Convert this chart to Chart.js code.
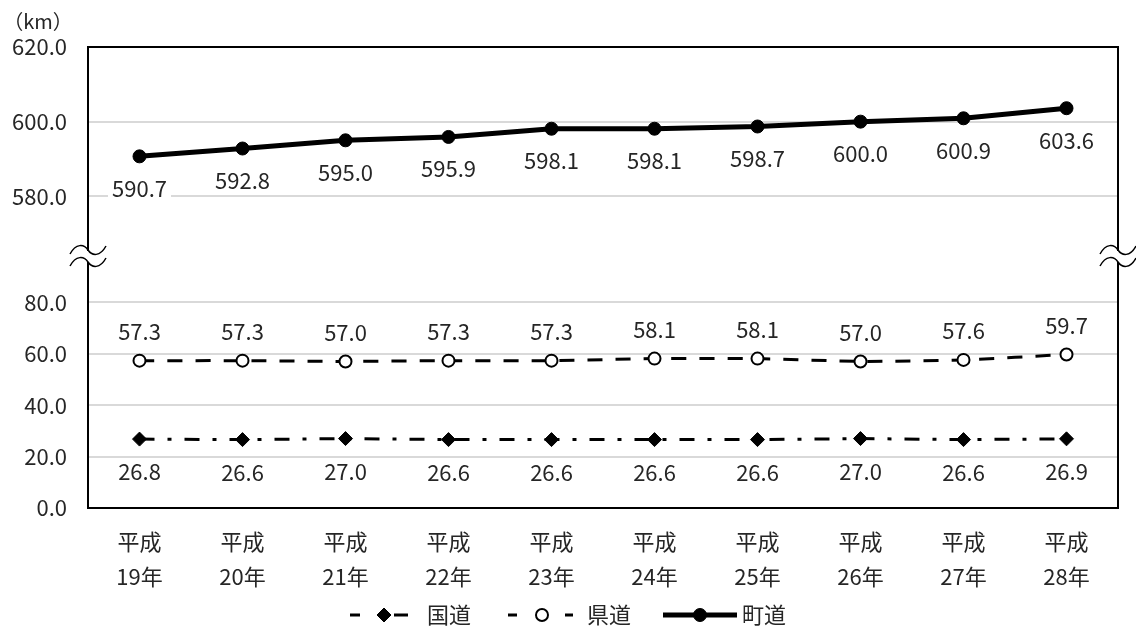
<!DOCTYPE html>
<html>
<head>
<meta charset="utf-8">
<script src="https://cdn.jsdelivr.net/npm/chart.js@4/dist/chart.umd.min.js"></script>
<style>
  body { margin: 0; background: #fff; }
  #wrap { width: 1136px; height: 632px; position: relative; }
</style>
</head>
<body>
<div id="wrap"><canvas id="roadChart"></canvas></div>
<script>
// 道路延長の推移 (km)
const years = [
  ["平成", "19年"], ["平成", "20年"], ["平成", "21年"], ["平成", "22年"], ["平成", "23年"],
  ["平成", "24年"], ["平成", "25年"], ["平成", "26年"], ["平成", "27年"], ["平成", "28年"],
];
const kokudo = [26.8, 26.6, 27.0, 26.6, 26.6, 26.6, 26.6, 27.0, 26.6, 26.9];
const kendo = [57.3, 57.3, 57.0, 57.3, 57.3, 58.1, 58.1, 57.0, 57.6, 59.7];
const chodo = [590.7, 592.8, 595.0, 595.9, 598.1, 598.1, 598.7, 600.0, 600.9, 603.6];
const seriesNames = ["国道", "県道", "町道"];
const lowerTicks = [0, 20, 40, 60, 80];
const upperTicks = [580, 600, 620];
const unitLabel = "（km）";

const FONT = '"Noto Sans CJK JP", "Noto Sans", sans-serif';
const TEXT = "#262626";
const FS = 22;

// data labels with white box behind
const valueLabels = {
  id: "valueLabels",
  afterDatasetsDraw(chart) {
    const ctx = chart.ctx;
    ctx.save();
    ctx.font = FS + "px " + FONT;
    ctx.textAlign = "center";
    ctx.textBaseline = "middle";
    chart.data.datasets.forEach((ds, i) => {
      const meta = chart.getDatasetMeta(i);
      meta.data.forEach((pt, j) => {
        const txt = ds.data[j].toFixed(1);
        const w = ctx.measureText(txt).width;
        const y = pt.y + ds.labelDy;
        ctx.fillStyle = "#fff";
        ctx.fillRect(pt.x - w / 2 - 4, y - 12, w + 8, 24);
        ctx.fillStyle = TEXT;
        ctx.fillText(txt, pt.x, y + 1);
      });
    });
    ctx.restore();
  },
};

// plot frame, axis break marks, unit, legend
const decor = {
  id: "decor",
  beforeDatasetsDraw(chart) {
    const { ctx, chartArea: a } = chart;
    ctx.save();
    ctx.strokeStyle = "#000";
    ctx.lineWidth = 2;
    ctx.strokeRect(a.left, a.top, a.right - a.left, a.bottom - a.top);
    ctx.restore();
  },
  afterDraw(chart) {
    const { ctx, chartArea: a } = chart;
    const yb = chart.scales.y.top;
    ctx.save();
    [a.left, a.right].forEach((x) => {
      const wave = (y0) => {
        ctx.moveTo(x - 18, y0 + 4);
        ctx.bezierCurveTo(x - 12, y0 - 7, x - 4, y0 - 6, x, y0);
        ctx.bezierCurveTo(x + 4, y0 + 6, x + 12, y0 + 7, x + 18, y0 - 4);
      };
      ctx.fillStyle = "#fff";
      ctx.fillRect(x - 3, yb - 5, 6, 11);
      ctx.strokeStyle = "#000";
      ctx.lineWidth = 1.5;
      ctx.beginPath();
      wave(yb - 6);
      ctx.stroke();
      ctx.beginPath();
      wave(yb + 6);
      ctx.stroke();
    });

    ctx.fillStyle = TEXT;
    ctx.font = "20px " + FONT;
    ctx.textAlign = "center";
    ctx.textBaseline = "middle";
    ctx.fillText(unitLabel, 38, 21);

    // legend
    const items = [
      { segs: [[350, 360], [394, 408]], mx: 384, tx: 427 },
      { segs: [[508, 517], [565, 573]], mx: 542, tx: 587 },
      { segs: [[663, 737]], mx: 700, tx: 742 },
    ];
    const ly = 615;
    items.forEach((it, i) => {
      const ds = chart.data.datasets[i];
      ctx.strokeStyle = ds.borderColor;
      ctx.lineWidth = ds.borderWidth;
      it.segs.forEach((s) => {
        ctx.beginPath();
        ctx.moveTo(s[0], ly);
        ctx.lineTo(s[1], ly);
        ctx.stroke();
      });
      ctx.fillStyle = ds.pointBackgroundColor;
      ctx.strokeStyle = ds.pointBorderColor;
      ctx.lineWidth = ds.pointBorderWidth;
      ctx.beginPath();
      if (ds.pointStyle === "circle") {
        ctx.arc(it.mx, ly, ds.pointRadius, 0, Math.PI * 2);
      } else {
        const r = ds.pointRadius;
        ctx.moveTo(it.mx, ly - r); ctx.lineTo(it.mx + r, ly);
        ctx.lineTo(it.mx, ly + r); ctx.lineTo(it.mx - r, ly);
        ctx.closePath();
      }
      ctx.fill();
      ctx.stroke();
      ctx.fillStyle = TEXT;
      ctx.font = FS + "px " + FONT;
      ctx.textAlign = "left";
      ctx.fillText(seriesNames[i], it.tx, ly);
    });
    ctx.restore();
  },
};

const yTickStyle = {
  font: { size: FS, family: FONT },
  color: TEXT,
  padding: 21,
  callback: (v) => Number(v).toFixed(1),
};

new Chart(document.getElementById("roadChart"), {
  type: "line",
  data: {
    labels: years,
    datasets: [
      {
        label: seriesNames[0],
        data: kokudo,
        yAxisID: "y",
        borderColor: "#000",
        borderWidth: 3,
        borderDash: [15, 13, 4, 13],
        pointStyle: "rectRot",
        pointRadius: 7,
        pointBorderWidth: 1,
        pointBackgroundColor: "#000",
        pointBorderColor: "#000",
        tension: 0,
        labelDy: 32,
      },
      {
        label: seriesNames[1],
        data: kendo,
        yAxisID: "y",
        borderColor: "#000",
        borderWidth: 3,
        borderDash: [15, 13],
        pointStyle: "circle",
        pointRadius: 6,
        pointBorderWidth: 2,
        pointBackgroundColor: "#fff",
        pointBorderColor: "#000",
        tension: 0.2,
        labelDy: -30,
      },
      {
        label: seriesNames[2],
        data: chodo,
        yAxisID: "y2",
        borderColor: "#000",
        borderWidth: 5,
        pointStyle: "circle",
        pointRadius: 6.5,
        pointBorderWidth: 1,
        pointBackgroundColor: "#000",
        pointBorderColor: "#000",
        tension: 0,
        labelDy: 31,
      },
    ],
  },
  options: {
    responsive: true,
    maintainAspectRatio: false,
    animation: false,
    layout: { padding: { top: 47, right: 18, bottom: 39, left: 0 } },
    plugins: {
      legend: { display: false },
      tooltip: { enabled: false },
    },
    scales: {
      x: {
        type: "category",
        offset: true,
        grid: { display: false, drawTicks: false },
        border: { display: false },
        ticks: {
          font: { size: FS, family: FONT, lineHeight: 1.6 },
          color: TEXT,
          padding: 16,
          maxRotation: 0,
          autoSkip: false,
        },
        afterFit: (s) => { s.height = 85; },
      },
      y: {
        position: "left",
        stack: "road",
        stackWeight: 252,
        min: 0,
        max: 98,
        grid: { color: "#d9d9d9", lineWidth: 2, drawTicks: false },
        border: { display: false },
        ticks: yTickStyle,
        afterBuildTicks: (s) => { s.ticks = lowerTicks.map((v) => ({ value: v })); },
        afterFit: (s) => { s.width = 88; },
      },
      y2: {
        position: "left",
        stack: "road",
        stackWeight: 209,
        min: 564,
        max: 620,
        grid: { color: "#d9d9d9", lineWidth: 2, drawTicks: false },
        border: { display: false },
        ticks: yTickStyle,
        afterBuildTicks: (s) => { s.ticks = upperTicks.map((v) => ({ value: v })); },
        afterFit: (s) => { s.width = 88; },
      },
    },
  },
  plugins: [valueLabels, decor],
});
</script>
</body>
</html>
